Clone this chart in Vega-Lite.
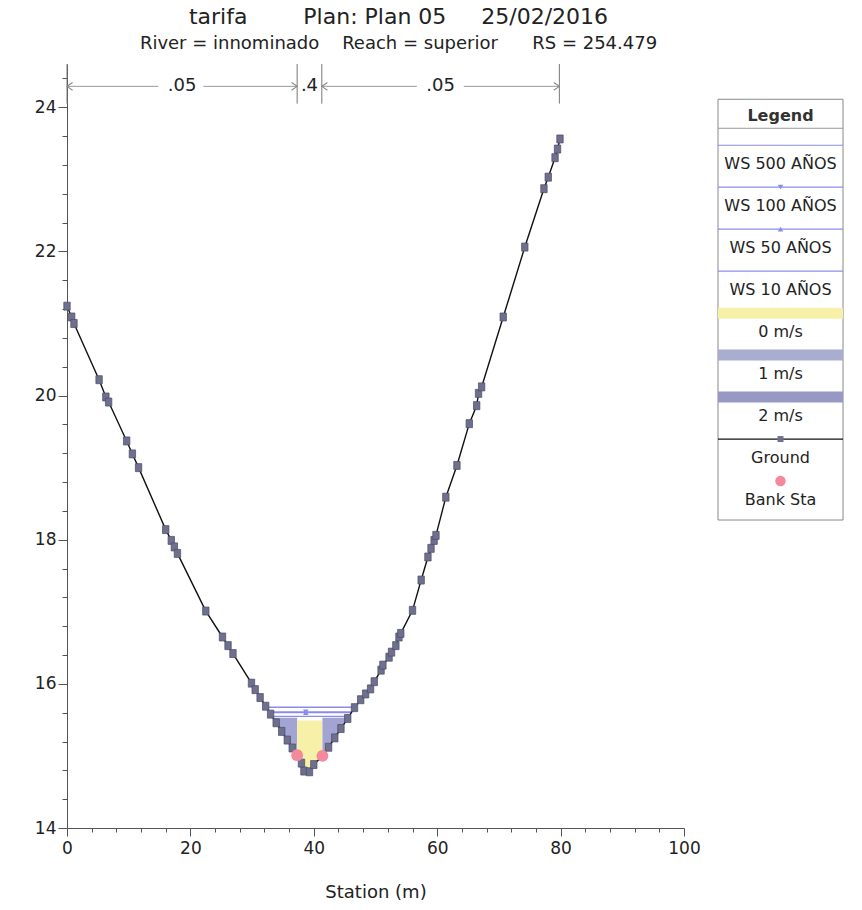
{
  "$schema": "https://vega.github.io/schema/vega-lite/v6.json",
  "background": "white",
  "padding": {"left": 34, "top": 5, "right": 12, "bottom": 4},
  "config": {"font": "DejaVu Sans", "view": {"stroke": null}},
  "bounds": "flush",
  "spacing": 34,
  "resolve": {"scale": {"x": "independent", "y": "independent", "color": "independent", "fill": "independent", "shape": "independent"}},
  "datasets": {
    "ground": [
      {"station": 0, "elev": 21.24}, {"station": 0.76, "elev": 21.09}, {"station": 1.13, "elev": 21.0},
      {"station": 5.2, "elev": 20.22}, {"station": 6.3, "elev": 19.98}, {"station": 6.75, "elev": 19.91},
      {"station": 9.67, "elev": 19.37}, {"station": 10.6, "elev": 19.19}, {"station": 11.6, "elev": 19.0},
      {"station": 16.0, "elev": 18.14}, {"station": 16.9, "elev": 17.99}, {"station": 17.4, "elev": 17.9},
      {"station": 17.9, "elev": 17.81}, {"station": 22.5, "elev": 17.01}, {"station": 25.2, "elev": 16.65},
      {"station": 26.1, "elev": 16.53}, {"station": 26.9, "elev": 16.42}, {"station": 29.9, "elev": 16.01},
      {"station": 30.5, "elev": 15.92}, {"station": 31.3, "elev": 15.81}, {"station": 32.2, "elev": 15.69},
      {"station": 33.0, "elev": 15.58}, {"station": 33.9, "elev": 15.46}, {"station": 34.8, "elev": 15.34},
      {"station": 35.7, "elev": 15.22}, {"station": 36.5, "elev": 15.11}, {"station": 37.3, "elev": 15.01},
      {"station": 38.0, "elev": 14.9}, {"station": 38.4, "elev": 14.79}, {"station": 39.3, "elev": 14.78},
      {"station": 40.0, "elev": 14.88}, {"station": 41.4, "elev": 15.0}, {"station": 42.4, "elev": 15.12},
      {"station": 43.4, "elev": 15.25}, {"station": 44.4, "elev": 15.38}, {"station": 45.5, "elev": 15.52},
      {"station": 46.6, "elev": 15.67}, {"station": 47.6, "elev": 15.78}, {"station": 48.4, "elev": 15.86},
      {"station": 49.2, "elev": 15.93}, {"station": 49.8, "elev": 16.03}, {"station": 50.9, "elev": 16.19},
      {"station": 51.2, "elev": 16.26}, {"station": 52.2, "elev": 16.37}, {"station": 52.6, "elev": 16.44},
      {"station": 53.3, "elev": 16.53}, {"station": 53.8, "elev": 16.65}, {"station": 54.1, "elev": 16.7},
      {"station": 56.0, "elev": 17.02}, {"station": 57.4, "elev": 17.44}, {"station": 58.5, "elev": 17.76},
      {"station": 59.0, "elev": 17.88}, {"station": 59.5, "elev": 17.99}, {"station": 59.8, "elev": 18.06},
      {"station": 61.4, "elev": 18.59}, {"station": 63.2, "elev": 19.03}, {"station": 65.2, "elev": 19.61},
      {"station": 66.4, "elev": 19.86}, {"station": 66.7, "elev": 20.03}, {"station": 67.2, "elev": 20.12},
      {"station": 70.7, "elev": 21.09}, {"station": 74.2, "elev": 22.06}, {"station": 77.3, "elev": 22.87},
      {"station": 78.0, "elev": 23.03}, {"station": 79.1, "elev": 23.3}, {"station": 79.5, "elev": 23.42},
      {"station": 79.9, "elev": 23.56}
    ],
    "vel": [
      {"part": "L", "vel": "1 m/s", "station": 33.35, "ground": 15.53, "top": 15.53},
      {"part": "L", "vel": "1 m/s", "station": 33.9, "ground": 15.46, "top": 15.53},
      {"part": "L", "vel": "1 m/s", "station": 34.8, "ground": 15.34, "top": 15.53},
      {"part": "L", "vel": "1 m/s", "station": 35.7, "ground": 15.22, "top": 15.53},
      {"part": "L", "vel": "1 m/s", "station": 36.5, "ground": 15.11, "top": 15.53},
      {"part": "L", "vel": "1 m/s", "station": 37.3, "ground": 15.01, "top": 15.53},
      {"part": "C", "vel": "0 m/s", "station": 37.3, "ground": 15.01, "top": 15.49},
      {"part": "C", "vel": "0 m/s", "station": 38.0, "ground": 14.9, "top": 15.49},
      {"part": "C", "vel": "0 m/s", "station": 38.4, "ground": 14.79, "top": 15.49},
      {"part": "C", "vel": "0 m/s", "station": 39.3, "ground": 14.78, "top": 15.49},
      {"part": "C", "vel": "0 m/s", "station": 40.0, "ground": 14.88, "top": 15.49},
      {"part": "C", "vel": "0 m/s", "station": 41.4, "ground": 15.0, "top": 15.49},
      {"part": "R", "vel": "1 m/s", "station": 41.4, "ground": 15.0, "top": 15.53},
      {"part": "R", "vel": "1 m/s", "station": 42.4, "ground": 15.12, "top": 15.53},
      {"part": "R", "vel": "1 m/s", "station": 43.4, "ground": 15.25, "top": 15.53},
      {"part": "R", "vel": "1 m/s", "station": 44.4, "ground": 15.38, "top": 15.53},
      {"part": "R", "vel": "1 m/s", "station": 45.5, "ground": 15.52, "top": 15.53},
      {"part": "R", "vel": "1 m/s", "station": 45.55, "ground": 15.53, "top": 15.53}
    ],
    "ws": [
      {"profile": "WS 500 AÑOS", "elev": 15.675, "sta_l": 32.3, "sta_r": 46.6},
      {"profile": "WS 100 AÑOS", "elev": 15.61, "sta_l": 32.75, "sta_r": 46.1, "mk": 38.7},
      {"profile": "WS 50 AÑOS", "elev": 15.6, "sta_l": 32.85, "sta_r": 46.05, "mk": 38.7},
      {"profile": "WS 10 AÑOS", "elev": 15.55, "sta_l": 33.2, "sta_r": 45.7}
    ],
    "bank": [
      {"station": 37.3, "elev": 15.01},
      {"station": 41.4, "elev": 15.0}
    ],
    "nbound": [
      {"station": 0}, {"station": 37.3}, {"station": 41.3}, {"station": 79.8}
    ],
    "nseg": [
      {"a": 0, "b": 14.8}, {"a": 22.1, "b": 37.3}, {"a": 41.3, "b": 56.7}, {"a": 64.3, "b": 79.8}
    ],
    "narrow": [
      {"station": 0, "dir": "left"}, {"station": 37.3, "dir": "right"},
      {"station": 41.3, "dir": "left"}, {"station": 79.8, "dir": "right"}
    ],
    "ntext": [
      {"station": 18.65, "n": ".05"}, {"station": 39.3, "n": ".4"}, {"station": 60.55, "n": ".05"}
    ],
    "leg": [
      {"k": 0, "label": "Legend", "sym": "header"},
      {"k": 1, "label": "WS 500 AÑOS", "sym": "line"},
      {"k": 2, "label": "WS 100 AÑOS", "sym": "down"},
      {"k": 3, "label": "WS 50 AÑOS", "sym": "up"},
      {"k": 4, "label": "WS 10 AÑOS", "sym": "line"},
      {"k": 5, "label": "0 m/s", "sym": "bar"},
      {"k": 6, "label": "1 m/s", "sym": "bar"},
      {"k": 7, "label": "2 m/s", "sym": "bar"},
      {"k": 8, "label": "Ground", "sym": "ground"},
      {"k": 9, "label": "Bank Sta", "sym": "bank"}
    ]
  },
  "hconcat": [
    {
      "width": 617,
      "height": 764,
      "resolve": {"scale": {"shape": "independent"}},
      "title": {
        "text": "tarifa\u00a0\u00a0\u00a0\u00a0\u00a0\u00a0\u00a0 Plan: Plan 05\u00a0\u00a0\u00a0\u00a0 25/02/2016",
        "subtitle": "River = innominado\u00a0\u00a0\u00a0 Reach = superior\u00a0\u00a0\u00a0\u00a0\u00a0 RS = 254.479",
        "fontSize": 22,
        "subtitleFontSize": 18,
        "fontWeight": "normal",
        "font": "DejaVu Sans",
        "subtitleFont": "DejaVu Sans",
        "color": "#222222",
        "subtitleColor": "#222222",
        "anchor": "middle",
        "dx": 23,
        "offset": 10,
        "subtitlePadding": 6
      },
      "layer": [
        {
          "data": {"name": "vel"},
          "mark": {"type": "area", "opacity": 1},
          "encoding": {
            "x": {
              "field": "station", "type": "quantitative",
              "scale": {"domain": [0, 100], "nice": false, "zero": false},
              "axis": {
                "title": "Station (m)",
                "values": [0, 4, 8, 12, 16, 20, 24, 28, 32, 36, 40, 44, 48, 52, 56, 60, 64, 68, 72, 76, 80, 84, 88, 92, 96, 100],
                "tickCount": 200,
                "format": "d",
                "labelExpr": "datum.value % 20 === 0 ? datum.label : ''",
                "tickSize": {"condition": {"test": "datum.value % 20 === 0", "value": 8}, "value": 4},
                "grid": false,
                "labelFontSize": 17,
                "titleFontSize": 18,
                "titleFontWeight": "normal",
                "labelColor": "#222222",
                "titleColor": "#222222",
                "domainColor": "#555555",
                "tickColor": "#555555",
                "labelPadding": 4,
                "titlePadding": 27,
                "labelOverlap": false,
                "labelFlush": false
              }
            },
            "y": {
              "field": "ground", "type": "quantitative",
              "scale": {"domain": [14, 24.6], "nice": false, "zero": false},
              "axis": {
                "title": null,
                "values": [14, 14.4, 14.8, 15.2, 15.6, 16, 16.4, 16.8, 17.2, 17.6, 18, 18.4, 18.8, 19.2, 19.6, 20, 20.4, 20.8, 21.2, 21.6, 22, 22.4, 22.8, 23.2, 23.6, 24, 24.4],
                "tickCount": 200,
                "format": ".0f",
                "labelExpr": "datum.value % 2 === 0 ? datum.label : ''",
                "tickSize": {"condition": {"test": "datum.value % 2 === 0", "value": 9}, "value": 5},
                "grid": false,
                "labelFontSize": 17,
                "labelColor": "#222222",
                "domainColor": "#555555",
                "tickColor": "#555555",
                "labelPadding": 2,
                "labelOverlap": false,
                "labelFlush": false
              }
            },
            "y2": {"field": "top"},
            "fill": {
              "field": "vel", "type": "nominal",
              "scale": {"domain": ["0 m/s", "1 m/s", "2 m/s"], "range": ["#f6f0a8", "#a2a4d4", "#9799c4"]},
              "legend": null
            },
            "detail": {"field": "part"}
          }
        },
        {
          "data": {"name": "ws"},
          "mark": {"type": "rule", "color": "#8a8cec", "strokeWidth": 1.3},
          "encoding": {
            "x": {"field": "sta_l", "type": "quantitative"},
            "x2": {"field": "sta_r"},
            "y": {"field": "elev", "type": "quantitative"}
          }
        },
        {
          "data": {"name": "ws"},
          "transform": [{"filter": "isValid(datum.mk)"}],
          "mark": {"type": "point", "filled": true, "size": 30, "color": "#8a8cec", "opacity": 1},
          "encoding": {
            "x": {"field": "mk", "type": "quantitative"},
            "y": {"field": "elev", "type": "quantitative"},
            "shape": {
              "field": "profile", "type": "nominal",
              "scale": {"domain": ["WS 100 AÑOS", "WS 50 AÑOS"], "range": ["triangle-down", "triangle-up"]},
              "legend": null
            }
          }
        },
        {
          "data": {"name": "ground"},
          "mark": {"type": "line", "color": "#111111", "strokeWidth": 1.4},
          "encoding": {
            "x": {"field": "station", "type": "quantitative"},
            "y": {"field": "elev", "type": "quantitative"},
            "order": {"field": "station"}
          }
        },
        {
          "data": {"name": "ground"},
          "mark": {"type": "point", "shape": "M-0.8,-1L0.8,-1L0.8,1L-0.8,1Z", "filled": true, "size": 64, "color": "#6f7090", "stroke": "#4a4a62", "strokeWidth": 0.7, "opacity": 1},
          "encoding": {
            "x": {"field": "station", "type": "quantitative"},
            "y": {"field": "elev", "type": "quantitative"}
          }
        },
        {
          "data": {"name": "bank"},
          "mark": {"type": "circle", "size": 140, "color": "#f4899c", "opacity": 1},
          "encoding": {
            "x": {"field": "station", "type": "quantitative"},
            "y": {"field": "elev", "type": "quantitative"}
          }
        },
        {
          "data": {"name": "nbound"},
          "mark": {"type": "rule", "color": "#777777", "strokeWidth": 1},
          "encoding": {
            "x": {"field": "station", "type": "quantitative"},
            "y": {"datum": 24.05, "type": "quantitative"},
            "y2": {"datum": 24.6}
          }
        },
        {
          "data": {"name": "nseg"},
          "mark": {"type": "rule", "color": "#999999", "strokeWidth": 1},
          "encoding": {
            "x": {"field": "a", "type": "quantitative"},
            "x2": {"field": "b"},
            "y": {"datum": 24.29, "type": "quantitative"}
          }
        },
        {
          "data": {"name": "narrow"},
          "mark": {"type": "point", "filled": false, "size": 49, "color": "#888888", "strokeWidth": 1.1, "opacity": 1},
          "encoding": {
            "x": {"field": "station", "type": "quantitative"},
            "y": {"datum": 24.29, "type": "quantitative"},
            "shape": {
              "field": "dir", "type": "nominal",
              "scale": {"domain": ["left", "right"], "range": ["M1.6,-1.1L0,0L1.6,1.1", "M-1.6,-1.1L0,0L-1.6,1.1"]},
              "legend": null
            }
          }
        },
        {
          "data": {"name": "ntext"},
          "mark": {"type": "text", "fontSize": 18, "color": "#222222", "baseline": "middle"},
          "encoding": {
            "x": {"field": "station", "type": "quantitative"},
            "y": {"datum": 24.29, "type": "quantitative"},
            "text": {"field": "n"}
          }
        }
      ]
    },
    {
      "width": 125,
      "height": 456,
      "data": {"name": "leg"},
      "resolve": {"scale": {"shape": "independent", "color": "independent"}},
      "layer": [
        {
          "transform": [{"filter": "datum.k === 0"}],
          "mark": {"type": "rect", "fill": "transparent", "stroke": "#888888", "strokeWidth": 1},
          "encoding": {
            "x": {"datum": 0, "type": "quantitative", "scale": {"domain": [0, 1], "nice": false, "zero": false}, "axis": null},
            "x2": {"datum": 1},
            "y": {"datum": -0.31, "type": "quantitative", "scale": {"domain": [-1.15, 9.714], "reverse": true, "nice": false, "zero": false}, "axis": null},
            "y2": {"datum": 9.714}
          }
        },
        {
          "transform": [{"filter": "datum.k === 0"}],
          "mark": {"type": "text", "fontSize": 16, "fontWeight": "bold", "color": "#333333", "yOffset": 4},
          "encoding": {
            "x": {"datum": 0.5, "type": "quantitative"},
            "y": {"field": "k", "type": "quantitative"},
            "text": {"field": "label"}
          }
        },
        {
          "transform": [{"filter": "datum.k === 0"}],
          "mark": {"type": "rule", "color": "#999999", "strokeWidth": 1, "yOffset": 16},
          "encoding": {
            "x": {"datum": 0, "type": "quantitative"},
            "x2": {"datum": 1},
            "y": {"field": "k", "type": "quantitative"}
          }
        },
        {
          "transform": [{"filter": "datum.sym === 'line' || datum.sym === 'down' || datum.sym === 'up'"}],
          "mark": {"type": "rule", "color": "#8a8cec", "strokeWidth": 1.2, "yOffset": -9},
          "encoding": {
            "x": {"datum": 0, "type": "quantitative"},
            "x2": {"datum": 1},
            "y": {"field": "k", "type": "quantitative"}
          }
        },
        {
          "transform": [{"filter": "datum.sym === 'down' || datum.sym === 'up'"}],
          "mark": {"type": "point", "filled": true, "size": 30, "color": "#8a8cec", "opacity": 1, "yOffset": -9},
          "encoding": {
            "x": {"datum": 0.5, "type": "quantitative"},
            "y": {"field": "k", "type": "quantitative"},
            "shape": {
              "field": "sym", "type": "nominal",
              "scale": {"domain": ["down", "up"], "range": ["triangle-down", "triangle-up"]},
              "legend": null
            }
          }
        },
        {
          "transform": [{"filter": "datum.sym === 'bar'"}],
          "mark": {"type": "rule", "strokeWidth": 11, "strokeCap": "butt", "yOffset": -9, "opacity": 1},
          "encoding": {
            "x": {"datum": 0, "type": "quantitative"},
            "x2": {"datum": 1},
            "y": {"field": "k", "type": "quantitative"},
            "color": {
              "field": "label", "type": "nominal",
              "scale": {"domain": ["0 m/s", "1 m/s", "2 m/s"], "range": ["#f6f0a8", "#a9adcf", "#9799c4"]},
              "legend": null
            }
          }
        },
        {
          "transform": [{"filter": "datum.sym === 'ground'"}],
          "mark": {"type": "rule", "color": "#111111", "strokeWidth": 1.2, "yOffset": -9},
          "encoding": {
            "x": {"datum": 0, "type": "quantitative"},
            "x2": {"datum": 1},
            "y": {"field": "k", "type": "quantitative"}
          }
        },
        {
          "transform": [{"filter": "datum.sym === 'ground'"}],
          "mark": {"type": "point", "shape": "square", "filled": true, "size": 36, "color": "#6f7090", "opacity": 1, "yOffset": -9},
          "encoding": {
            "x": {"datum": 0.5, "type": "quantitative"},
            "y": {"field": "k", "type": "quantitative"}
          }
        },
        {
          "transform": [{"filter": "datum.sym === 'bank'"}],
          "mark": {"type": "circle", "size": 110, "color": "#f4899c", "opacity": 1, "yOffset": -9},
          "encoding": {
            "x": {"datum": 0.5, "type": "quantitative"},
            "y": {"field": "k", "type": "quantitative"}
          }
        },
        {
          "transform": [{"filter": "datum.k > 0"}],
          "mark": {"type": "text", "fontSize": 16, "color": "#222222", "yOffset": 10},
          "encoding": {
            "x": {"datum": 0.5, "type": "quantitative"},
            "y": {"field": "k", "type": "quantitative"},
            "text": {"field": "label"}
          }
        }
      ]
    }
  ]
}
